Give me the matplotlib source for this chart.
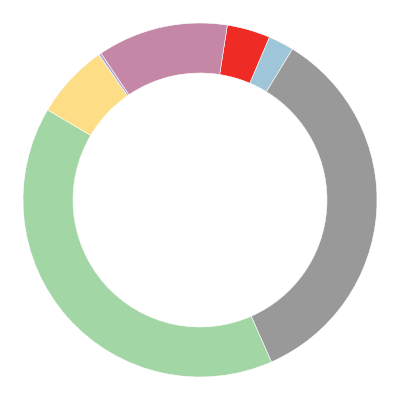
import matplotlib
matplotlib.use("Agg")
import matplotlib.pyplot as plt

# slice values (share of the ring), clockwise starting from the red one
labels = ["red", "blue", "gray", "green", "yellow", "lavender", "mauve"]
values = [3.95, 2.33, 34.64, 40.11, 6.83, 0.22, 11.92]
colors = ["#ee2b24", "#9fc6d8", "#999999", "#a2d6a5", "#fddd86", "#a9a3d3", "#c487a5"]

fig = plt.figure(figsize=(4, 4), dpi=100)
ax = fig.add_axes([0, 0, 1, 1])
ax.pie(values, colors=colors, startangle=81.1, counterclock=False,
       radius=0.885, wedgeprops=dict(width=0.25, edgecolor="white", linewidth=0.4))
ax.set_xlim(-1, 1)
ax.set_ylim(-1, 1)
ax.set_aspect("equal")
ax.axis("off")

fig.savefig("out.png", dpi=100)
